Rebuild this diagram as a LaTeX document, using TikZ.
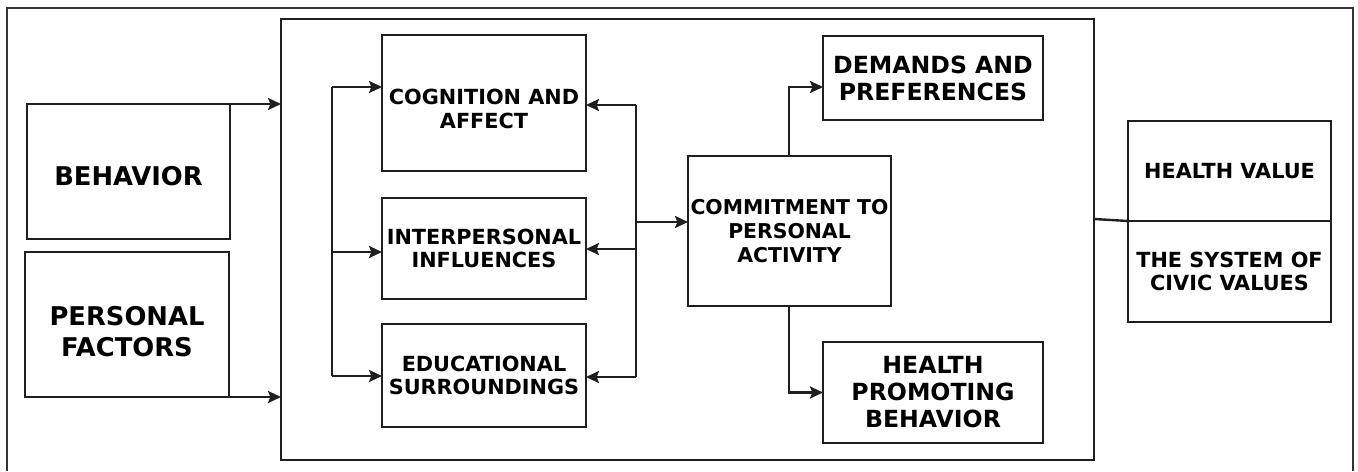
\documentclass[tikz,border=0pt]{standalone}
\usepackage{fontspec}
\setmainfont{DejaVu Sans}
\usetikzlibrary{arrows.meta}
\begin{document}
\begin{tikzpicture}[x=0.5pt,y=-0.5pt,
  box/.style={draw=black!88, line width=1.2pt, inner sep=0pt, outer sep=0pt, align=center, font=\bfseries},
  arr/.style={draw=black!88, line width=1.2pt, -{Stealth[length=6.5pt,width=6pt,inset=1.2pt]}},
  ln/.style={draw=black!88, line width=1.2pt},
  bigf/.style={font=\fontsize{12.9}{15.5}\selectfont\bfseries, align=center, inner sep=0pt},
  medf/.style={font=\fontsize{11.8}{13.5}\selectfont\bfseries},
  smlf/.style={font=\fontsize{10.4}{11.8}\selectfont\bfseries},
  txt/.style={font=\fontsize{10.4}{11.8}\selectfont\bfseries, align=center, inner sep=0pt}]
\useasboundingbox (0,0) rectangle (1358,471);
% outer frame (open at bottom)
\draw[draw=black!80, line width=0.8pt] (7,471) -- (7,8) -- (1353,8) -- (1353,471);
% big box
\node[box, minimum width=406.5pt, minimum height=220.5pt] (big) at (687.5,239.5) {};
% left boxes
\node[box, minimum width=101.5pt, minimum height=67.5pt] (beh) at (128.5,171.5) {};
\node[bigf] (behT) at ([yshift=-2.3pt]beh.center) {BEHAVIOR};
\node[box, minimum width=102pt, minimum height=72.5pt] (pers) at (127,324.5) {};
\node[bigf] (persT) at ([yshift=-3.7pt]pers.center) {PERSONAL\\FACTORS};
% inner boxes
\node[box, minimum width=102pt, minimum height=68pt] (cog) at (484,103) {};
\node[txt] (cogT) at ([yshift=-3pt]cog.center) {COGNITION AND\\AFFECT};
\node[box, smlf, minimum width=102pt, minimum height=50.5pt] (inter) at (484,248.5) {INTERPERSONAL\\INFLUENCES};
\node[box, smlf, minimum width=102pt, minimum height=51.5pt] (edu) at (484,375.5) {EDUCATIONAL\\SURROUNDINGS};
\node[box, font=\fontsize{10.2}{11.8}\selectfont\bfseries, minimum width=101.5pt, minimum height=75pt] (com) at (789.5,231) {COMMITMENT TO\\PERSONAL\\ACTIVITY};
\node[box, medf, minimum width=110pt, minimum height=42pt] (dem) at (933,78) {DEMANDS AND\\PREFERENCES};
\node[box, medf, minimum width=110pt, minimum height=50.5pt] (hp) at (933,392.5) {HEALTH\\PROMOTING\\BEHAVIOR};
% right boxes
\node[box, font=\fontsize{10.4}{11.8}\selectfont\bfseries, minimum width=101.5pt, minimum height=50pt] (hv) at (1229.5,171) {HEALTH VALUE};
\node[box, font=\fontsize{10.4}{11.8}\selectfont\bfseries, minimum width=101.5pt, minimum height=50.5pt] (civ) at (1229.5,271.5) {THE SYSTEM OF\\CIVIC VALUES};
% connectors into big box
\draw[arr] (beh.north east) -- (beh.north east -| big.west);
\draw[arr] (pers.south east) -- (pers.south east -| big.west);
% left bus
\coordinate (l1) at (332,87);
\coordinate (l2) at (332,252);
\coordinate (l3) at (332,376);
\draw[ln] (l1) -- (l3);
\draw[arr] (l1) -- (l1 -| cog.west);
\draw[arr] (l2) -- (l2 -| inter.west);
\draw[arr] (l3) -- (l3 -| edu.west);
% right bus
\coordinate (r1) at (636,105);
\coordinate (r2) at (636,249);
\coordinate (r3) at (636,377);
\coordinate (rc) at (636,222);
\draw[ln] (r1) -- (r3);
\draw[arr] (r1) -- (r1 -| cog.east);
\draw[arr] (r2) -- (r2 -| inter.east);
\draw[arr] (r3) -- (r3 -| edu.east);
\draw[arr] (rc) -- (rc -| com.west);
% commitment outputs
\coordinate (cu) at (789,87);
\coordinate (cd) at (789,392.5);
\draw[arr] (com.north -| cu) -- (cu) -- (cu -| dem.west);
\draw[arr] (com.south -| cd) -- (cd) -- (hp.west);
% link to values
\coordinate (bv) at (1094,219);
\draw[ln] (bv) -- (hv.south west);
\end{tikzpicture}
\end{document}
